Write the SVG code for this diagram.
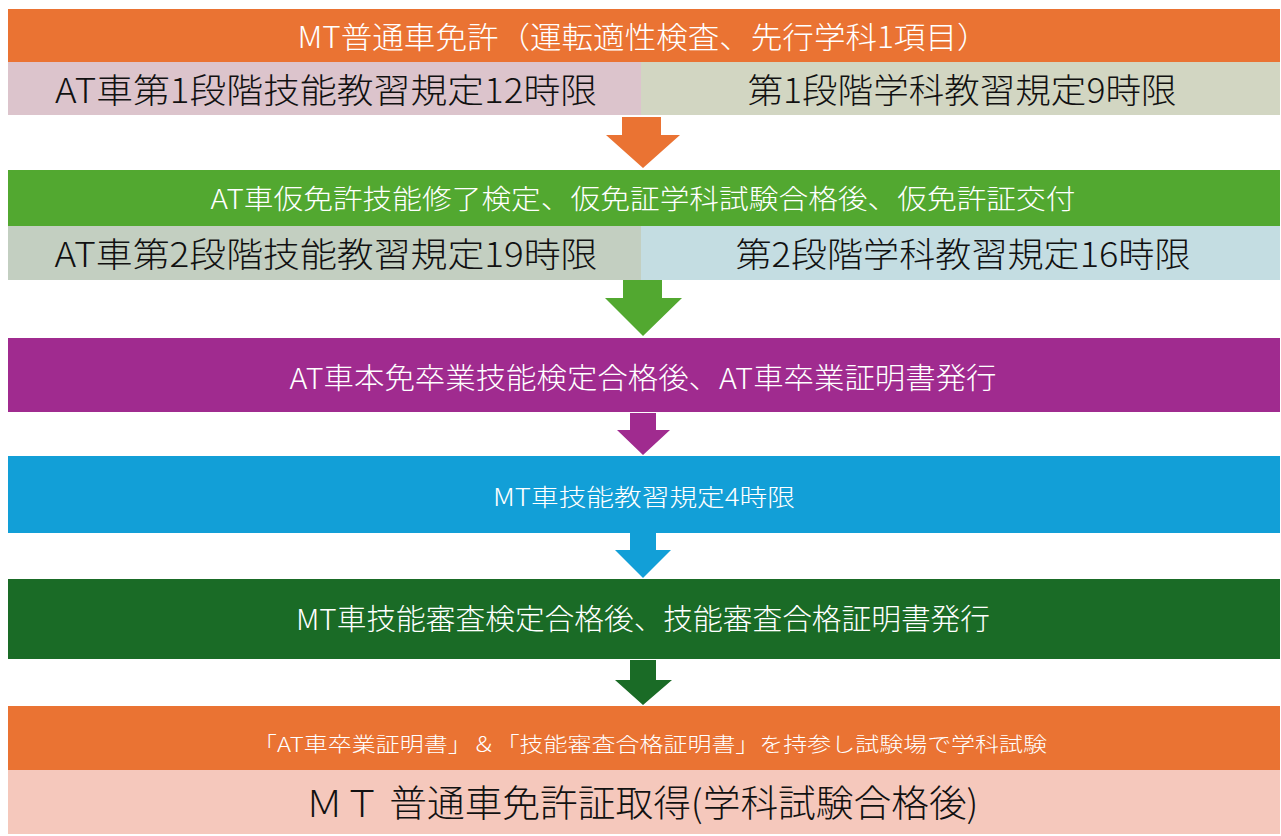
<svg xmlns="http://www.w3.org/2000/svg" width="1281" height="836" viewBox="0 0 1281 836">
<style>
text{font-family:"Noto Sans CJK JP","Noto Sans",sans-serif;font-weight:300;text-anchor:middle;dominant-baseline:central}
.w{fill:#ffffff}
.k{fill:#111111}
</style>
<rect width="1281" height="836" fill="#ffffff"/>
<g id="n1">
<rect x="8" y="9" width="1272" height="53" fill="#ea7333"/>
<text class="w" x="643" y="35" font-size="30" textLength="691" lengthAdjust="spacingAndGlyphs">MT普通車免許（運転適性検査、先行学科1項目）</text>
</g>
<g id="n1a">
<rect x="8" y="62" width="633" height="53" fill="#dcc4cc"/>
<text class="k" x="326" y="88" font-size="34" textLength="542" lengthAdjust="spacingAndGlyphs">AT車第1段階技能教習規定12時限</text>
</g>
<g id="n1b">
<rect x="641" y="62" width="639" height="53" fill="#d2d6c2"/>
<text class="k" x="962" y="88" font-size="34" textLength="429" lengthAdjust="spacingAndGlyphs">第1段階学科教習規定9時限</text>
</g>
<g id="n2">
<rect x="8" y="170" width="1272" height="56" fill="#52a830"/>
<text class="w" x="643" y="197" font-size="27" textLength="865" lengthAdjust="spacingAndGlyphs">AT車仮免許技能修了検定、仮免証学科試験合格後、仮免許証交付</text>
</g>
<g id="n2a">
<rect x="8" y="226" width="633" height="54" fill="#c3cfc1"/>
<text class="k" x="326" y="252" font-size="34" textLength="543" lengthAdjust="spacingAndGlyphs">AT車第2段階技能教習規定19時限</text>
</g>
<g id="n2b">
<rect x="641" y="226" width="639" height="54" fill="#c4dde2"/>
<text class="k" x="963" y="252" font-size="34" textLength="455" lengthAdjust="spacingAndGlyphs">第2段階学科教習規定16時限</text>
</g>
<g id="n3">
<rect x="8" y="338" width="1272" height="74" fill="#a02b8f"/>
<text class="w" x="643" y="376" font-size="29" textLength="707" lengthAdjust="spacingAndGlyphs">AT車本免卒業技能検定合格後、AT車卒業証明書発行</text>
</g>
<g id="n4">
<rect x="8" y="456" width="1272" height="77" fill="#129fd7"/>
<text class="w" x="644" y="495" font-size="24" textLength="302" lengthAdjust="spacingAndGlyphs">MT車技能教習規定4時限</text>
</g>
<g id="n5">
<rect x="8" y="579" width="1272" height="80" fill="#1a6b26"/>
<text class="w" x="643" y="617" font-size="29" textLength="694" lengthAdjust="spacingAndGlyphs">MT車技能審査検定合格後、技能審査合格証明書発行</text>
</g>
<g id="n6">
<rect x="8" y="706" width="1272" height="64" fill="#ea7333"/>
<text class="w" x="650" y="743" font-size="20" textLength="794" lengthAdjust="spacingAndGlyphs">「AT車卒業証明書」＆「技能審査合格証明書」を持参し試験場で学科試験</text>
</g>
<g id="n7">
<rect x="8" y="770" width="1272" height="64" fill="#f5c8bc"/>
<text class="k" x="642" y="801" font-size="37" font-weight="400" textLength="673" lengthAdjust="spacingAndGlyphs">ＭＴ 普通車免許証取得(学科試験合格後)</text>
</g>
<g id="connectors">
<polygon points="622,117 661,117 661,135 680,135 643,168 606,135 622,135" fill="#ea7333"/>
<polygon points="623,280 662,280 662,298 682,298 643,336 605,298 623,298" fill="#52a830"/>
<polygon points="630,413 656,413 656,430 670,430 643,455 617,430 630,430" fill="#a02b8f"/>
<polygon points="630,533 656,533 656,550 671,550 643,578 615,550 630,550" fill="#129fd7"/>
<polygon points="630,660 656,660 656,680 672,680 643,705 615,680 630,680" fill="#1a6b26"/>
</g>
</svg>
